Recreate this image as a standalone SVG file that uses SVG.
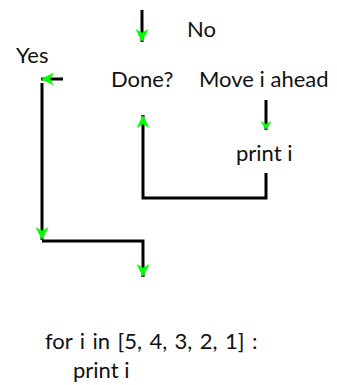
<svg xmlns="http://www.w3.org/2000/svg" width="337" height="385" viewBox="0 0 337 385">
<defs>
<style>
.t{font-family:Lato,"Liberation Sans",sans-serif;font-size:22px;fill:#111}
.c{fill:none;stroke:#000;stroke-width:3}
</style>
<marker id="ah" markerUnits="userSpaceOnUse" markerWidth="13" markerHeight="13" viewBox="0 0 12 12" refX="12" refY="6" orient="auto">
<path d="M0,0 L12,6 L0,12 L3.5,6 Z" fill="#00ff00"/>
</marker>
<marker id="ahs" markerUnits="userSpaceOnUse" markerWidth="12" markerHeight="12" viewBox="0 0 12 12" refX="9" refY="6" orient="auto">
<path d="M0,0.5 L9,6 L0,11.5 L3,6 Z" fill="#00ff00"/>
</marker>
</defs>
<rect width="337" height="385" fill="#fff"/>
<g id="connectors">
<path class="c" d="M142,10 V42" marker-end="url(#ah)"/>
<path class="c" d="M63,79 H41" marker-end="url(#ah)"/>
<path class="c" d="M42,83 V240" marker-end="url(#ah)"/>
<path class="c" d="M42,241 H143 V277" marker-end="url(#ah)"/>
<path class="c" d="M266,173 V198 H143 V115" marker-end="url(#ah)"/>
<path class="c" d="M266,100 V130" marker-end="url(#ahs)"/>
</g>
<g id="no"><text class="t" x="187" y="37" font-size="23">No</text></g>
<g id="yes"><text class="t" x="16" y="63">Yes</text></g>
<g id="done"><text class="t" x="111" y="87">Done?</text></g>
<g id="move"><text class="t" x="199" y="87">Move i ahead</text></g>
<g id="print"><text class="t" x="236" y="161">print i</text></g>
<g id="code"><text class="t" x="45" y="349" font-size="23" word-spacing="1.8">for i in [5, 4, 3, 2, 1] :</text><text class="t" x="73" y="378">print i</text></g>
</svg>
